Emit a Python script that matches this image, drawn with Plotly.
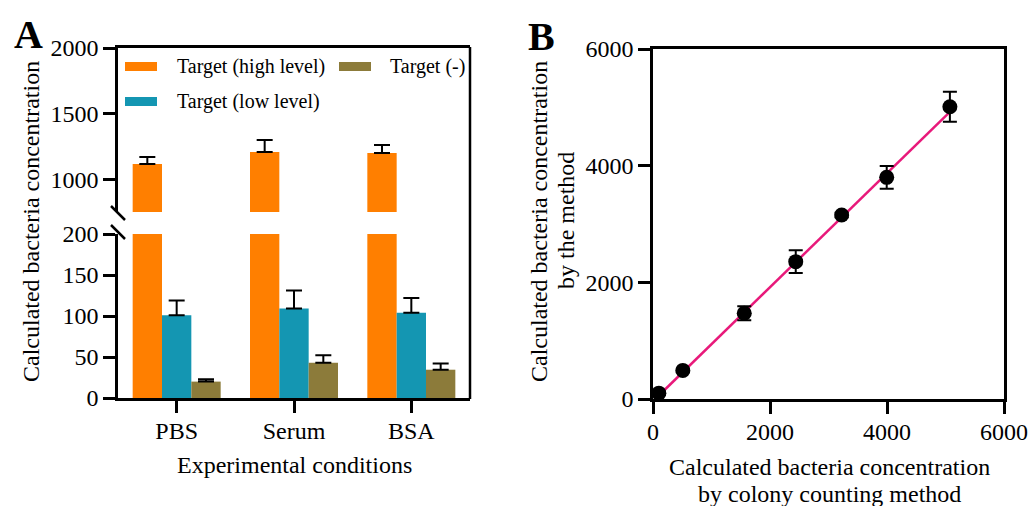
import plotly.graph_objects as go

W, H = 1028, 506

# ---------------- data ----------------
conditions = ["PBS", "Serum", "BSA"]
high_level = [1121, 1212, 1205]
high_err = [53, 91, 60]
low_level = [101, 109, 104]
low_err = [18, 22, 18]
negative = [20, 43, 34.5]
negative_err = [3, 9, 7.7]

colony_x = [100, 510, 1560, 2440, 3225, 3995, 5075]
method_y = [100, 490, 1470, 2355, 3155, 3800, 5010]
method_err = [30, 30, 120, 195, 40, 195, 257]
fit_x = [100, 5080]
fit_y = [60, 4925]

a_yticks_low = [0, 50, 100, 150, 200]
a_yticks_high = [1000, 1500, 2000]
b_ticks = [0, 2000, 4000, 6000]

legend_names = ["Target (high level)", "Target (-)", "Target (low level)"]

# ---------------- style ----------------
ORANGE = "#FF7F00"
TEAL = "#1496B2"
OLIVE = "#8C7B3A"
PINK = "#E8197A"
FONT = "Liberation Serif"
LW = 2.5


def px_x(p):
    return p / W


def px_y(p):
    return 1 - p / H


BW = 0.25
offsets = [-0.375, -0.125, 0.125]

fig = go.Figure()

# Panel A lower part
err_common = dict(type="data", symmetric=False, color="black", thickness=2, width=8)
fig.add_trace(go.Bar(x=conditions, y=high_level, width=BW, offset=offsets[0],
                     marker=dict(color=ORANGE, line=dict(width=0)),
                     xaxis="x", yaxis="y", showlegend=False, name=legend_names[0]))
fig.add_trace(go.Bar(x=conditions, y=low_level, width=BW, offset=offsets[1],
                     marker=dict(color=TEAL, line=dict(width=0)),
                     error_y=dict(array=low_err, arrayminus=[0, 0, 0], **err_common),
                     xaxis="x", yaxis="y", showlegend=False, name=legend_names[2]))
fig.add_trace(go.Bar(x=conditions, y=negative, width=BW, offset=offsets[2],
                     marker=dict(color=OLIVE, line=dict(width=0)),
                     error_y=dict(array=negative_err, arrayminus=[0, 0, 0], **err_common),
                     xaxis="x", yaxis="y", showlegend=False, name=legend_names[1]))
# Panel A upper part
fig.add_trace(go.Bar(x=conditions, y=high_level, width=BW, offset=offsets[0],
                     marker=dict(color=ORANGE, line=dict(width=0)),
                     error_y=dict(array=high_err, arrayminus=[0, 0, 0], **err_common),
                     xaxis="x2", yaxis="y2", showlegend=False, name=legend_names[0]))

# Panel B
fig.add_trace(go.Scatter(x=fit_x, y=fit_y, mode="lines", line=dict(color=PINK, width=2.5),
                         xaxis="x3", yaxis="y3", showlegend=False, cliponaxis=False))
fig.add_trace(go.Scatter(x=colony_x, y=method_y, mode="markers",
                         marker=dict(color="black", size=15),
                         error_y=dict(type="data", array=method_err, color="black", thickness=2, width=7),
                         xaxis="x3", yaxis="y3", showlegend=False, cliponaxis=False))

A_X = [px_x(118), px_x(470)]
A_LOW = [px_y(398), px_y(234)]
A_HIGH = [px_y(212), px_y(48)]
B_X = [px_x(653), px_x(1004)]
B_Y = [px_y(399), px_y(49)]

tickfont = dict(family=FONT, size=24, color="black")
axis_common = dict(showline=True, linecolor="black", linewidth=LW, ticks="outside",
                   ticklen=12, tickwidth=LW, tickcolor="black", showgrid=False,
                   zeroline=False, tickfont=tickfont, automargin=False)

fig.update_layout(
    template="none",
    width=W, height=H, margin=dict(l=0, r=0, t=0, b=0, pad=0, autoexpand=False),
    paper_bgcolor="white", plot_bgcolor="rgba(0,0,0,0)",
    barmode="overlay",
    font=dict(family=FONT, color="black"),
    xaxis=dict(domain=A_X, anchor="y", range=[-0.5, 2.5], type="category",
               ticklabelstandoff=-3, **axis_common),
    yaxis=dict(domain=A_LOW, anchor="x", range=[0, 200], tickvals=a_yticks_low, **axis_common),
    xaxis2=dict(domain=A_X, anchor="y2", range=[-0.5, 2.5], type="category", side="top",
                showline=True, linecolor="black", linewidth=LW, ticks="",
                showticklabels=False, showgrid=False, zeroline=False, automargin=False),
    yaxis2=dict(domain=A_HIGH, anchor="x2", range=[757, 2000], tickvals=a_yticks_high, **axis_common),
    xaxis3=dict(domain=B_X, anchor="y3", range=[0, 6000], tickvals=b_ticks, mirror=True,
                ticklabelstandoff=-3, **axis_common),
    yaxis3=dict(domain=B_Y, anchor="x3", range=[0, 6000], tickvals=b_ticks, mirror=True, **axis_common),
)

shapes = []
# right border of panel A (continuous)
shapes.append(dict(type="line", xref="paper", yref="paper", x0=px_x(470), x1=px_x(470),
                   y0=px_y(399), y1=px_y(47), line=dict(color="black", width=LW)))
# break marks
for (y0, y1) in [(206, 220), (225, 239)]:
    shapes.append(dict(type="line", xref="paper", yref="paper", x0=px_x(111), x1=px_x(125),
                       y0=px_y(y0), y1=px_y(y1), line=dict(color="black", width=LW)))
# legend swatches
sw = [(125, 157, 62, 71, ORANGE), (339, 371, 62, 71, OLIVE), (125, 157, 97, 106, TEAL)]
for x0, x1, y0, y1, c in sw:
    shapes.append(dict(type="rect", xref="paper", yref="paper", x0=px_x(x0), x1=px_x(x1),
                       y0=px_y(y1), y1=px_y(y0), fillcolor=c, line=dict(width=0)))
fig.update_layout(shapes=shapes)

ann = []
leg_pos = [(175, 66), (388, 66), (175, 102)]
for name, (lx, ly) in zip(legend_names, leg_pos):
    ann.append(dict(text=name, xref="paper", yref="paper", x=px_x(lx), y=px_y(ly),
                    xanchor="left", yanchor="middle", showarrow=False,
                    font=dict(family=FONT, size=20, color="black")))
titlefont = dict(family=FONT, size=24, color="black")


def add_title(text, x, y, angle=0):
    ann.append(dict(text=text, xref="paper", yref="paper", x=px_x(x), y=px_y(y),
                    textangle=angle, showarrow=False, xanchor="center", yanchor="middle",
                    font=titlefont))


add_title("Calculated bacteria concentration", 31, 222, -90)
add_title("Experimental conditions", 294, 465)
add_title("Calculated bacteria concentration", 539, 222, -90)
add_title("by the method", 566, 221, -90)
add_title("Calculated bacteria concentration", 829, 467)
add_title("by colony counting method", 829, 494)

ann.append(dict(text="<b>A</b>", xref="paper", yref="paper", x=px_x(28), y=px_y(34),
                showarrow=False, xanchor="center", yanchor="middle",
                font=dict(family=FONT, size=40, color="black")))
ann.append(dict(text="<b>B</b>", xref="paper", yref="paper", x=px_x(541), y=px_y(36),
                showarrow=False, xanchor="center", yanchor="middle",
                font=dict(family=FONT, size=40, color="black")))
fig.update_layout(annotations=ann)

fig.write_html("out.html", config={"displayModeBar": False},
               post_script="document.body.style.margin='0';document.body.style.overflow='hidden';")
